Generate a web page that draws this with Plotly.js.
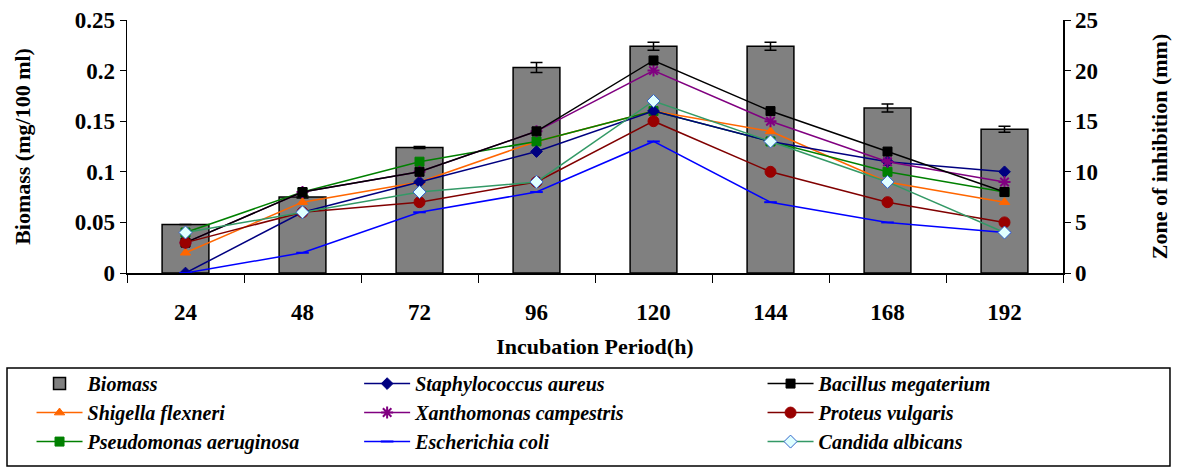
<!DOCTYPE html>
<html><head><meta charset="utf-8">
<script src="https://cdn.plot.ly/plotly-3.0.1.min.js"></script>
<style>body{margin:0;background:#fff}#c{width:1180px;height:470px}</style>
</head><body><div id="c"></div>
<script>
const periods = ['24','48','72','96','120','144','168','192'];
const biomass = [0.048, 0.075, 0.124, 0.203, 0.224, 0.224, 0.163, 0.142];
const biomassErr = [0.0, 0.001, 0.001, 0.005, 0.004, 0.004, 0.004, 0.003];
const staphAureus = [0, 6, 9, 12, 16, 13, 11, 10];
const bacillusMegaterium = [3, 8, 10, 14, 21, 16, 12, 8];
const shigellaFlexneri = [2, 7, 9, 13, 16, 14, 9, 7];
const xanthomonasCampestris = [3, 8, 10, 14, 20, 15, 11, 9];
const proteusVulgaris = [3, 6, 7, 9, 15, 10, 7, 5];
const pseudomonasAeruginosa = [4, 8, 11, 13, 16, 13, 10, 8];
const escherichiaColi = [0, 2, 6, 8, 13, 7, 5, 4];
const candidaAlbicans = [4, 6, 8, 9, 17, 13, 9, 4];

const serif = 'Liberation Serif';
function line(name, y, color, sym, legend, mcolor, mline, size) {
  return {type:'scatter', mode:'lines+markers', name, x:periods, y, yaxis:'y2', legend,
    line:{color, width:1.5},
    marker:{symbol:sym, size:size||9, color:mcolor||color, line:{color:mline||mcolor||color, width:(sym==='asterisk'||sym==='line-ew')?2:1}}};
}
const traces = [
  {type:'bar', name:'Biomass', x:periods, y:biomass, yaxis:'y', legend:'legend',
   marker:{color:'#808080', line:{color:'#000', width:1.5}},
   error_y:{type:'data', array:biomassErr, visible:true, color:'#000', thickness:1.5, width:6}},
  line('Shigella flexneri', shigellaFlexneri, '#FF6600', 'triangle-up', 'legend'),
  line('Pseudomonas aeruginosa', pseudomonasAeruginosa, '#008000', 'square', 'legend'),
  line('Staphylococcus aureus', staphAureus, '#000080', 'diamond', 'legend2'),
  line('Xanthomonas campestris', xanthomonasCampestris, '#800080', 'asterisk', 'legend2', '#800080', '#800080', 10),
  line('Escherichia coli', escherichiaColi, '#0000FF', 'line-ew', 'legend2', '#0000FF', '#0000FF', 9),
  line('Bacillus megaterium', bacillusMegaterium, '#000000', 'square', 'legend3'),
  line('Proteus vulgaris', proteusVulgaris, '#800000', 'circle', 'legend3', '#990000', '#990000', 11),
  line('Candida albicans', candidaAlbicans, '#339966', 'diamond', 'legend3', '#E0FFFF', '#3366CC', 10)
];
const tickFont = {family:serif, size:23, color:'#000', weight:'bold'};
const titleFont = {family:serif, size:22, color:'#000', weight:'bold'};
const legFont = {family:serif, size:20, color:'#000', weight:'bold', style:'italic'};
function leg(x) {
  return {x, y:-0.36, xanchor:'left', yanchor:'top', orientation:'v', font:legFont,
    bgcolor:'rgba(0,0,0,0)', borderwidth:0, itemwidth:46, tracegroupgap:0, traceorder:'normal'};
}
const layout = {
  width:1180, height:470, margin:{l:127, r:117, t:20, b:197, autoexpand:false},
  paper_bgcolor:'#fff', plot_bgcolor:'#fff',
  bargap:0.6, showlegend:true,
  xaxis:{type:'category', tickson:'boundaries', ticks:'outside', ticklen:8, tickcolor:'#000',
    showline:true, linecolor:'#000', linewidth:1.5, showgrid:false, tickfont:tickFont, ticklabelstandoff:18,
    title:{text:'Incubation Period(h)', font:titleFont, standoff:14}},
  yaxis:{range:[0,0.25], dtick:0.05, ticks:'outside', ticklen:6, tickcolor:'#000',
    showline:true, linecolor:'#000', linewidth:1.5, showgrid:false, zeroline:false, tickfont:tickFont,
    title:{text:'Biomass (mg/100 ml)', font:titleFont, standoff:38}},
  yaxis2:{range:[0,25], dtick:5, overlaying:'y', side:'right', ticks:'outside', ticklen:6, tickcolor:'#000',
    showline:true, linecolor:'#000', linewidth:1.5, showgrid:false, zeroline:false, tickfont:tickFont,
    title:{text:'Zone of inhibition (mm)', font:titleFont, standoff:54}},
  legend:leg(-0.102), legend2:leg(0.248), legend3:leg(0.679),
  shapes:[{type:'rect', xref:'paper', yref:'paper', x0:-0.1282, x1:1.1143, y0:-0.7628, y1:-0.3755,
    line:{color:'#000', width:1.5}, fillcolor:'rgba(0,0,0,0)'}]
};
Plotly.newPlot('c', traces, layout, {displayModeBar:false, staticPlot:true});
</script></body></html>
